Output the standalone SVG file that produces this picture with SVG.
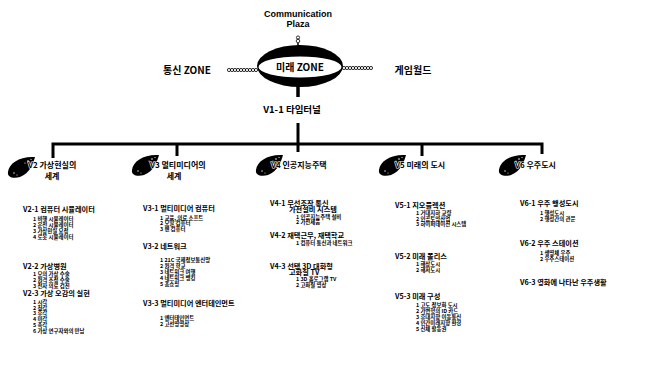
<svg xmlns="http://www.w3.org/2000/svg" width="646" height="379" viewBox="0 0 646 379">
<style>
.t{font-family:"Noto Sans CJK KR","Noto Sans",sans-serif;font-weight:700;fill:#000}
.en{font-family:"Liberation Sans",Arial,sans-serif;font-weight:700;fill:#000}
.z{font-size:10px}
.h{font-size:8px;stroke:#fff;stroke-width:1.2px;paint-order:stroke}
.tt{font-size:7.2px}
.it{font-size:5.4px}
.ln{stroke:#000;fill:none}
.coil{fill:none;stroke:#000;stroke-width:0.8}
.blob{fill:#000}
.sp{fill:#fff}
</style>
<defs>
<g id="blob">
<path class="blob" d="M0,15 C1,6 12,-1 27,0 C25,7 22,16 12,20 C5,22 -1,20 0,15 Z"/>
<circle class="sp" cx="20" cy="4" r="0.8"/><circle class="sp" cx="23" cy="2.5" r="0.6"/><circle class="sp" cx="17" cy="6" r="0.6"/><circle class="sp" cx="6" cy="16" r="0.7"/><circle class="sp" cx="9" cy="18" r="0.5"/><circle class="sp" cx="22" cy="7" r="0.5"/>
</g>
<g id="coil">
<circle class="coil" cx="0" cy="0" r="1.6"/><circle class="coil" cx="3" cy="0" r="1.6"/><circle class="coil" cx="6" cy="0" r="1.6"/><circle class="coil" cx="9" cy="0" r="1.6"/><circle class="coil" cx="12" cy="0" r="1.6"/><circle class="coil" cx="15" cy="0" r="1.6"/><circle class="coil" cx="18" cy="0" r="1.6"/><circle class="coil" cx="21" cy="0" r="1.6"/><circle class="coil" cx="24" cy="0" r="1.6"/><circle class="coil" cx="27" cy="0" r="1.6"/>
</g>
</defs>
<rect width="646" height="379" fill="#fff"/>

<g id="connectors">
<use href="#coil" x="229" y="70"/>
<use href="#coil" x="344" y="68"/>
<circle class="coil" cx="298" cy="37.5" r="1.6"/>
<circle class="coil" cx="298" cy="41" r="1.8"/>
<line class="ln" x1="298" y1="43" x2="298" y2="46" stroke-width="1.5"/>
<line class="ln" x1="298" y1="85" x2="298" y2="97" stroke-width="3.5"/>
<line class="ln" x1="298" y1="123" x2="298" y2="152" stroke-width="3"/>
<path class="ln" stroke-width="3" d="M53,158 V144 H542 V154"/>
<line class="ln" x1="177" y1="144" x2="177" y2="156" stroke-width="3"/>
<line class="ln" x1="422" y1="144" x2="422" y2="156" stroke-width="3"/>
</g>

<g id="plaza">
<text class="en" x="298" y="16.5" font-size="9" text-anchor="middle">Communication</text>
<text class="en" x="298" y="26.5" font-size="9" text-anchor="middle">Plaza</text>
</g>

<g id="future-zone">
<ellipse cx="300" cy="66" rx="43" ry="21" fill="#000"/>
<ellipse cx="300" cy="67" rx="41.5" ry="10.5" fill="#fff"/>
<text class="t z" x="300" y="71" text-anchor="middle">미래 ZONE</text>
</g>

<g id="comm-zone">
<text class="t z" x="187" y="73.5" text-anchor="middle">통신 ZONE</text>
</g>

<g id="game-world">
<text class="t z" x="413" y="73.5" text-anchor="middle">게임월드</text>
</g>

<g id="v1-1">
<text class="t" font-size="9.5" x="292" y="113" text-anchor="middle">V1-1 타임터널</text>
</g>

<g id="v2">
<use href="#blob" x="8" y="157"/>
<text class="t h" x="28" y="168">V2 가상현실의</text>
<text class="t h" x="52" y="178.5" text-anchor="middle">세계</text>
<text class="t tt" x="23" y="212">V2-1 컴퓨터 시뮬레이터</text>
<text class="t it" x="33" y="220.5">1 비행 시뮬레이터</text>
<text class="t it" x="33" y="226.5">2 운전 시뮬레이터</text>
<text class="t it" x="33" y="232.5">3 가상현실 요정</text>
<text class="t it" x="33" y="238.5">4 로봇 시뮬레이터</text>
<text class="t tt" x="23" y="268.5">V2-2 가상병원</text>
<text class="t it" x="33" y="276">1 모의 가상 수술</text>
<text class="t it" x="33" y="282">2 원격 조정 수술</text>
<text class="t it" x="33" y="288">3 전자 의료 검진</text>
<text class="t tt" x="23" y="296">V2-3 가상 오감의 실현</text>
<text class="t it" x="33" y="303.8">1 시각</text>
<text class="t it" x="33" y="309.6">2 청각</text>
<text class="t it" x="33" y="315.4">3 후각</text>
<text class="t it" x="33" y="321.2">4 미각</text>
<text class="t it" x="33" y="327">5 촉각</text>
<text class="t it" x="33" y="332.8">6 가상 연구자와의 만남</text>
</g>

<g id="v3">
<use href="#blob" x="132" y="155"/>
<text class="t h" x="150" y="168">V3 멀티미디어의</text>
<text class="t h" x="174" y="178.5" text-anchor="middle">세계</text>
<text class="t tt" x="143" y="210.5">V3-1 멀티미디어 컴퓨터</text>
<text class="t it" x="160" y="219.5">1 교육, 의료 소프트</text>
<text class="t it" x="160" y="225.3">2 모빌 컴퓨터</text>
<text class="t it" x="160" y="231.1">3 펜 컴퓨터</text>
<text class="t tt" x="143" y="249">V3-2 네트워크</text>
<text class="t it" x="160" y="261.5">1 21C 국제정보통신망</text>
<text class="t it" x="160" y="267.5">2 원격 학교</text>
<text class="t it" x="160" y="273.5">3 네트워크 여행</text>
<text class="t it" x="160" y="279.5">4 네트워크 뱅킹</text>
<text class="t it" x="160" y="285.5">5 홈쇼핑</text>
<text class="t tt" x="143" y="306">V3-3 멀티미디어 엔터테인먼트</text>
<text class="t it" x="160" y="319.5">1 엔터테인먼트</text>
<text class="t it" x="160" y="325.5">2 고선명영상</text>
</g>

<g id="v4">
<use href="#blob" x="256" y="155"/>
<text class="t h" x="271" y="168">V4 인공지능주택</text>
<text class="t tt" x="270" y="205.5">V4-1 무선조작 통신</text>
<text class="t tt" x="289" y="212">가전설비 시스템</text>
<text class="t it" x="296" y="218.5">1 인공지능주택 설비</text>
<text class="t it" x="296" y="224">2 가전제품</text>
<text class="t tt" x="270" y="238">V4-2 재택근무, 재택학교</text>
<text class="t it" x="296" y="245">1 컴퓨터 통신과 네트워크</text>
<text class="t tt" x="270" y="268.5">V4-3 선택 3D 대화형</text>
<text class="t tt" x="289" y="275">고화질 TV</text>
<text class="t it" x="296" y="281">1 3D 홀로그램 TV</text>
<text class="t it" x="296" y="286.5">2 고화질 영상</text>
</g>

<g id="v5">
<use href="#blob" x="379" y="155"/>
<text class="t h" x="395" y="168">V5 미래의 도시</text>
<text class="t tt" x="395" y="207.5">V5-1 지오플렉션</text>
<text class="t it" x="416" y="215">1 거대지하 교량</text>
<text class="t it" x="416" y="220.5">2 인공토양산업</text>
<text class="t it" x="416" y="226">3 하이퍼네이션 시스템</text>
<text class="t tt" x="395" y="259">V5-2 미래 폴리스</text>
<text class="t it" x="416" y="266">1 해상도시</text>
<text class="t it" x="416" y="271.5">2 해저도시</text>
<text class="t tt" x="395" y="299">V5-3 미래 구성</text>
<text class="t it" x="416" y="306.5">1 고도 정보화 도시</text>
<text class="t it" x="416" y="312.5">2 가변형의 ID 카드</text>
<text class="t it" x="416" y="318.5">3 휴대지향 이동통신</text>
<text class="t it" x="416" y="324.5">4 인간미래지향 환경</text>
<text class="t it" x="416" y="330.5">5 신체 활동권</text>
</g>

<g id="v6">
<use href="#blob" x="499" y="155"/>
<text class="t h" x="515" y="168">V6 우주도시</text>
<text class="t tt" x="520" y="205.5">V6-1 우주 행성도시</text>
<text class="t it" x="540" y="215">1 행성도시</text>
<text class="t it" x="540" y="221">2 행성간의 관문</text>
<text class="t tt" x="520" y="245.5">V6-2 우주 스테이션</text>
<text class="t it" x="540" y="255">1 생명체 우주</text>
<text class="t it" x="540" y="261">2 우주스테이션</text>
<text class="t tt" x="520" y="285">V6-3 영화에 나타난 우주생활</text>
</g>
</svg>
